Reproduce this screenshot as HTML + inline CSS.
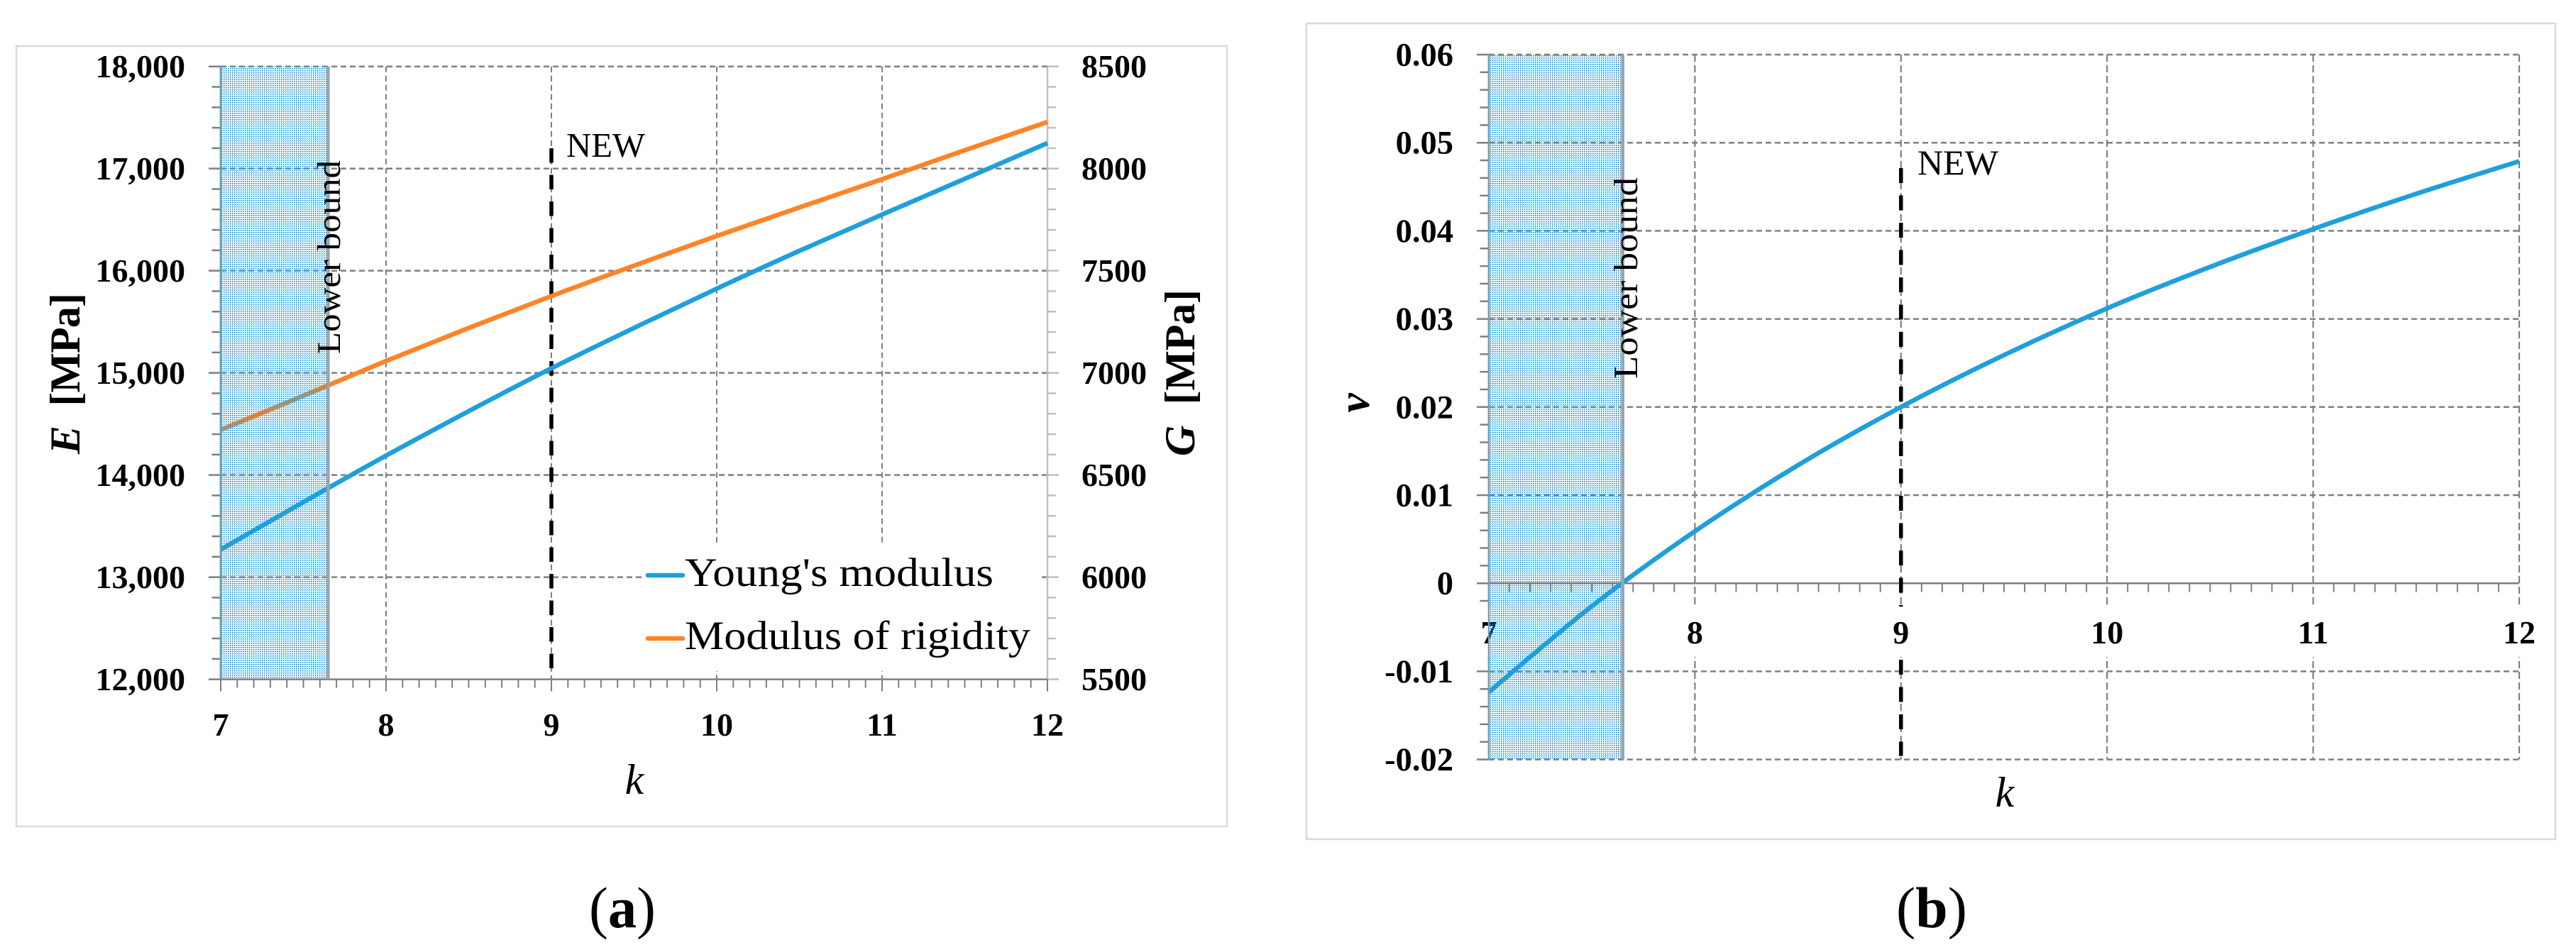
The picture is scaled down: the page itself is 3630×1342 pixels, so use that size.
<!DOCTYPE html>
<html lang="en">
<head>
<meta charset="utf-8">
<title>Young's modulus, modulus of rigidity and Poisson's ratio versus k</title>
<style>
html,body{margin:0;padding:0;background:#fff;width:3630px;height:1342px;overflow:hidden}
svg{display:block}
text{font-family:"Liberation Serif",serif;fill:#000}
</style>
</head>
<body>
<svg id="figure" xmlns="http://www.w3.org/2000/svg" width="3630" height="1342" viewBox="0 0 3630 1342">
  <defs>
    <pattern id="stipple" patternUnits="userSpaceOnUse" width="3" height="3">
      <path d="M0 0h2v1h-1v1h-1z" fill="#1f9fdc"/>
    </pattern>
  </defs>
  <rect x="0" y="0" width="3630" height="1342" fill="#fff"/>
  <rect x="23" y="65" width="1706" height="1100" fill="#fff" stroke="#d9d9d9" stroke-width="2.5"/>
  <rect x="1841" y="33" width="1760" height="1150" fill="#fff" stroke="#d9d9d9" stroke-width="2.5"/>
  <g id="panelA"></g>
  <g id="panelB"></g>
  <text x="830" y="1307" font-size="82" textLength="94" lengthAdjust="spacingAndGlyphs">(<tspan font-weight="bold">a</tspan>)</text>
  <text x="2672" y="1307" font-size="82" textLength="100" lengthAdjust="spacingAndGlyphs">(<tspan font-weight="bold">b</tspan>)</text>
</svg>
<script>
// ---- chart data ----
var kValues = [7, 7.5, 8, 8.5, 9, 9.5, 10, 10.5, 11, 11.5, 12];
var youngsModulus = [13270, 13735, 14190, 14625, 15045, 15440, 15825, 16195, 16550, 16900, 17250];
var rigidityModulus = [6721, 6888, 7058, 7220, 7376, 7525, 7670, 7810, 7948, 8090, 8228];
var poissonRatio = [-0.01234, -0.0026, 0.0059, 0.0134, 0.0200, 0.0259, 0.0312, 0.0359, 0.0402, 0.0442, 0.0479];
var kTicks = [7, 8, 9, 10, 11, 12];
var eTicks = [12000, 13000, 14000, 15000, 16000, 17000, 18000];
var eTickLabels = ['12,000', '13,000', '14,000', '15,000', '16,000', '17,000', '18,000'];
var gTicks = [5500, 6000, 6500, 7000, 7500, 8000, 8500];
var gTickLabels = ['5500', '6000', '6500', '7000', '7500', '8000', '8500'];
var nuTicks = [-0.02, -0.01, 0, 0.01, 0.02, 0.03, 0.04, 0.05, 0.06];
var nuTickLabels = ['-0.02', '-0.01', '0', '0.01', '0.02', '0.03', '0.04', '0.05', '0.06'];
var lowerBoundK = [7, 7.65];
var newK = [9];

// ---- axis functions ----
function scale(d0, d1, r0, r1) {
  return function (v) { return r0 + (v - d0) / (d1 - d0) * (r1 - r0); };
}
var A = { left: 311, right: 1476, top: 93.7, bottom: 957.6 };
var B = { left: 2098, right: 3550, top: 77, bottom: 1070.6 };
var xA = scale(7, 12, A.left, A.right);
var yE = scale(12000, 18000, A.bottom, A.top);
var yG = scale(5500, 8500, A.bottom, A.top);
var xB = scale(7, 12, B.left, B.right);
var yNu = scale(-0.02, 0.06, B.bottom, B.top);

var NS = 'http://www.w3.org/2000/svg';
var GRID = '#7f7f7f';
var LIGHT = '#bfbfbf';
var BLUE = '#1f9fdc';
var ORANGE = '#ff8426';

function mk(parent, tag, attrs, txt) {
  var el = document.createElementNS(NS, tag);
  for (var k in attrs) el.setAttribute(k, attrs[k]);
  if (txt !== undefined) el.textContent = txt;
  parent.appendChild(el);
  return el;
}
function seg(parent, x1, y1, x2, y2, color, w, dash) {
  var a = { x1: x1, y1: y1, x2: x2, y2: y2, stroke: color, 'stroke-width': w };
  if (dash) a['stroke-dasharray'] = dash;
  return mk(parent, 'line', a);
}
// smooth curve through the data points (Catmull-Rom to cubic Bezier)
function pathFrom(xs, ys, fx, fy) {
  var n = xs.length;
  var px = xs.map(fx);
  var py = ys.map(fy);
  var d = 'M' + px[0].toFixed(1) + ' ' + py[0].toFixed(1);
  for (var i = 0; i < n - 1; i++) {
    var a = Math.max(i - 1, 0);
    var b = Math.min(i + 2, n - 1);
    var c1x = px[i] + (px[i + 1] - px[a]) / 6;
    var c1y = py[i] + (py[i + 1] - py[a]) / 6;
    var c2x = px[i + 1] - (px[b] - px[i]) / 6;
    var c2y = py[i + 1] - (py[b] - py[i]) / 6;
    d += 'C' + c1x.toFixed(1) + ' ' + c1y.toFixed(1) + ' ' + c2x.toFixed(1) + ' ' + c2y.toFixed(1) + ' ' + px[i + 1].toFixed(1) + ' ' + py[i + 1].toFixed(1);
  }
  return d;
}
function drawBand(parent, fx, top, bottom, name) {
  var x0 = fx(lowerBoundK[0]);
  var x1 = fx(lowerBoundK[1]);
  var r = mk(parent, 'rect', { x: x0, y: top, width: x1 - x0, height: bottom - top, fill: 'url(#stipple)' });
  
  
  var e = seg(parent, x1, top, x1, bottom, '#9aa5ab', 4.5);
  
  
  var l = seg(parent, x0, top, x0, bottom, '#6f9fb5', 2.5);
  
  
}

// ================ panel (a) ================
var pa = document.getElementById('panelA');
var i, j, el, y, x;

for (i = 0; i < eTicks.length; i++) {
  y = yE(eTicks[i]);
  if (i > 0) {
    el = seg(pa, A.left, y, A.right, y, GRID, 2.5, '8 5');
    
    
  }
  el = seg(pa, A.left - 17, y, A.left, y, GRID, 2.5);
  
  
  el = seg(pa, A.right, y, A.right + 16, y, LIGHT, 2.5);
  
  
  el = mk(pa, 'text', { x: 261, y: y + 15.5, 'text-anchor': 'end', 'font-size': 46, 'font-weight': 'bold' }, eTickLabels[i]);
  
  
  el = mk(pa, 'text', { x: 1616, y: yG(gTicks[i]) + 15.5, 'text-anchor': 'end', 'font-size': 46, 'font-weight': 'bold' }, gTickLabels[i]);
  
  
  if (i < eTicks.length - 1) {
    for (j = 1; j < 5; j++) {
      y = yE(eTicks[i] + j * 200);
      el = seg(pa, A.left - 12.5, y, A.left, y, GRID, 2.5);
      
      
      el = seg(pa, A.right, y, A.right + 12, y, LIGHT, 2.5);
      
      
    }
  }
}
for (i = 0; i < kTicks.length; i++) {
  x = xA(kTicks[i]);
  if (i > 0 && i < kTicks.length - 1) {
    el = seg(pa, x, A.top, x, A.bottom, GRID, 2, '8 5');
    
    
  }
  el = seg(pa, x, A.bottom, x, A.bottom + 17, GRID, 2);
  
  
  el = mk(pa, 'text', { x: x, y: 1037, 'text-anchor': 'middle', 'font-size': 46, 'font-weight': 'bold' }, String(kTicks[i]));
  
  
  if (i < kTicks.length - 1) {
    for (j = 1; j < 10; j++) {
      x = xA(kTicks[i] + j * 0.1);
      el = seg(pa, x, A.bottom, x, A.bottom + 12, GRID, 2);
      
      
    }
  }
}
el = seg(pa, A.left, A.top, A.left, A.bottom, GRID, 2.5);


el = seg(pa, A.right, A.top, A.right, A.bottom, LIGHT, 2.5);


el = seg(pa, A.left, A.bottom, A.right, A.bottom, GRID, 2.5);



el = seg(pa, xA(newK[0]), 209, xA(newK[0]), A.bottom, '#000', 5.5, '20.5 17');



el = mk(pa, 'path', { d: pathFrom(kValues, youngsModulus, xA, yE), fill: 'none', stroke: BLUE, 'stroke-width': 6.5 });


el = mk(pa, 'path', { d: pathFrom(kValues, rigidityModulus, xA, yG), fill: 'none', stroke: ORANGE, 'stroke-width': 6.5 });



drawBand(pa, xA, A.top, A.bottom, 'a');

el = mk(pa, 'rect', { x: 906, y: 766, width: 558, height: 180, fill: '#fff' });


el = seg(pa, 913, 811, 962, 811, BLUE, 6.5);
el.setAttribute('stroke-linecap', 'round');


el = mk(pa, 'text', { x: 965, y: 826, 'font-size': 57, textLength: 435, lengthAdjust: 'spacingAndGlyphs' }, "Young's modulus");


el = seg(pa, 913, 900, 962, 900, ORANGE, 6.5);
el.setAttribute('stroke-linecap', 'round');


el = mk(pa, 'text', { x: 965, y: 915, 'font-size': 57, textLength: 487, lengthAdjust: 'spacingAndGlyphs' }, 'Modulus of rigidity');



el = mk(pa, 'text', { x: 798, y: 221, 'font-size': 49, textLength: 111, lengthAdjust: 'spacingAndGlyphs' }, 'NEW');


el = mk(pa, 'text', { transform: 'translate(479 499) rotate(-90)', x: 0, y: 0, 'font-size': 47, textLength: 273, lengthAdjust: 'spacingAndGlyphs' }, 'Lower bound');


el = mk(pa, 'text', { x: 894, y: 1119, 'text-anchor': 'middle', 'font-size': 60, 'font-style': 'italic' }, 'k');



el = mk(pa, 'text', { transform: 'translate(112 640) rotate(-90)', x: 0, y: 0, 'font-size': 60, 'font-weight': 'bold', textLength: 227, lengthAdjust: 'spacing' });


mk(el, 'tspan', { 'font-style': 'italic' }, 'E');
mk(el, 'tspan', {}, '\u00a0\u00a0[MPa]');

el = mk(pa, 'text', { transform: 'translate(1683 643) rotate(-90)', x: 0, y: 0, 'font-size': 60, 'font-weight': 'bold', textLength: 235, lengthAdjust: 'spacing' });


mk(el, 'tspan', { 'font-style': 'italic' }, 'G');
mk(el, 'tspan', {}, '\u00a0\u00a0[MPa]');

// ================ panel (b) ================
var pb = document.getElementById('panelB');

for (i = 0; i < nuTicks.length; i++) {
  y = yNu(nuTicks[i]);
  if (nuTicks[i] !== 0) {
    el = seg(pb, B.left, y, B.right, y, GRID, 2.5, '8 5');
    
    
  }
  el = seg(pb, B.left - 17, y, B.left, y, GRID, 2.5);
  
  
  el = mk(pb, 'text', { x: 2048, y: y + 15.5, 'text-anchor': 'end', 'font-size': 46.5, 'font-weight': 'bold' }, nuTickLabels[i]);
  
  
  if (i < nuTicks.length - 1) {
    for (j = 1; j < 5; j++) {
      y = yNu(nuTicks[i] + j * 0.002);
      el = seg(pb, B.left - 12.5, y, B.left, y, GRID, 2.5);
      
      
    }
  }
}
for (i = 0; i < kTicks.length; i++) {
  x = xB(kTicks[i]);
  if (i > 0) {
    el = seg(pb, x, B.top, x, B.bottom, GRID, 2.2, '10 5');
    
    
  }
  if (i < kTicks.length - 1) {
    for (j = 1; j < 10; j++) {
      x = xB(kTicks[i] + j * 0.1);
      el = seg(pb, x, yNu(0), x, yNu(0) + 12.5, GRID, 2);
      
      
    }
  }
}
el = seg(pb, B.left, B.top, B.left, B.bottom, GRID, 2.5);


el = seg(pb, B.left, yNu(0), B.right, yNu(0), GRID, 2.5);



el = seg(pb, xB(newK[0]), 237, xB(newK[0]), B.bottom - 5, '#000', 5.5, '21 17.5');



for (i = 0; i < kTicks.length; i++) {
  x = xB(kTicks[i]);
  var halfW = kTicks[i] >= 10 ? 26 : 13;
  el = mk(pb, 'rect', { x: x - halfW, y: 855, width: halfW * 2, height: 71, fill: '#fff' });
  
  
  el = mk(pb, 'text', { x: x, y: 907, 'text-anchor': 'middle', 'font-size': 46, 'font-weight': 'bold' }, String(kTicks[i]));
  
  
}

el = mk(pb, 'path', { d: pathFrom(kValues, poissonRatio, xB, yNu), fill: 'none', stroke: BLUE, 'stroke-width': 6.5 });



drawBand(pb, xB, B.top, B.bottom, 'b');

el = mk(pb, 'text', { x: 2702, y: 246, 'font-size': 50, textLength: 114, lengthAdjust: 'spacingAndGlyphs' }, 'NEW');


el = mk(pb, 'text', { transform: 'translate(2307 534) rotate(-90)', x: 0, y: 0, 'font-size': 48, textLength: 284, lengthAdjust: 'spacingAndGlyphs' }, 'Lower bound');


el = mk(pb, 'text', { x: 2825, y: 1137, 'text-anchor': 'middle', 'font-size': 60, 'font-style': 'italic' }, 'k');


el = mk(pb, 'text', { transform: 'translate(1929 568) rotate(-90)', x: 0, y: 0, 'text-anchor': 'middle', 'font-size': 62, 'font-style': 'italic', 'font-weight': 'bold' }, '\u03bd');


</script>
</body>
</html>
